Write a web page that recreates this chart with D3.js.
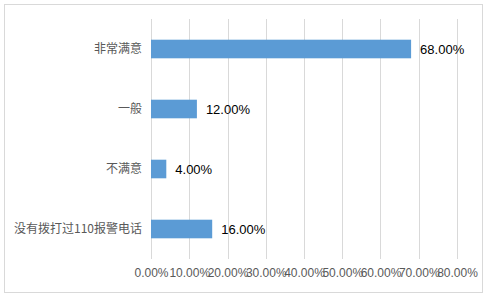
<!DOCTYPE html>
<html>
<head>
<meta charset="utf-8">
<script src="https://cdn.jsdelivr.net/npm/d3@7"></script>
<style>
  body { margin: 0; background: #fff; }
  svg { display: block; }
</style>
</head>
<body>
<svg id="chart"></svg>
<script>
// chart data
const categories = ['非常满意', '一般', '不满意', '没有拨打过110报警电话'];
const values = [0.68, 0.12, 0.04, 0.16];
const tickValues = [0, 0.1, 0.2, 0.3, 0.4, 0.5, 0.6, 0.7, 0.8];

const W = 489, H = 297;
const margin = { top: 19, right: 32, bottom: 38, left: 151 };
const width = W - margin.left - margin.right;
const height = H - margin.top - margin.bottom;

const svg = d3.select('#chart').attr('width', W).attr('height', H);

// outer border
svg.append('rect')
  .attr('x', 4.5).attr('y', 4.5)
  .attr('width', 478).attr('height', 288)
  .attr('fill', '#fff')
  .attr('stroke', '#d9d9d9');

const g = svg.append('g')
  .attr('transform', `translate(${margin.left},${margin.top})`);

const x = d3.scaleLinear().domain([0, 0.8]).range([0, width]);
const y = d3.scaleBand().domain(categories).range([0, height]).paddingInner(0.69).paddingOuter(0.345);

// gridlines
g.selectAll('.grid')
  .data(tickValues)
  .enter()
  .append('line')
  .attr('class', 'grid')
  .attr('x1', d => Math.round(x(d)) + 0.5)
  .attr('x2', d => Math.round(x(d)) + 0.5)
  .attr('y1', 0)
  .attr('y2', height)
  .attr('stroke', '#d9d9d9');

// x axis tick labels
const xAxis = g.append('g')
  .attr('transform', `translate(0,${height})`)
  .call(d3.axisBottom(x).tickValues(tickValues).tickFormat(d3.format('.2%')).tickSize(0).tickPadding(9));
xAxis.select('.domain').remove();
xAxis.selectAll('text')
  .attr('fill', '#595959')
  .style('font-family', '"Liberation Sans", Arial, sans-serif')
  .style('font-size', '12px');

// category labels
const yAxis = g.append('g')
  .call(d3.axisLeft(y).tickSize(0).tickPadding(9));
yAxis.select('.domain').remove();
yAxis.selectAll('text')
  .attr('fill', '#595959')
  .style('font-family', '"Noto Sans CJK SC", sans-serif')
  .style('font-size', '12px');

// bars
g.selectAll('.bar')
  .data(categories)
  .enter()
  .append('rect')
  .attr('class', 'bar')
  .attr('x', x(0))
  .attr('y', d => y(d))
  .attr('width', (d, i) => x(values[i]) - x(0))
  .attr('height', y.bandwidth())
  .attr('fill', '#5b9bd5');

// value labels
g.selectAll('.val')
  .data(categories)
  .enter()
  .append('text')
  .attr('class', 'val')
  .attr('x', (d, i) => x(values[i]) + 9)
  .attr('y', d => y(d) + y.bandwidth() / 2)
  .attr('dy', '0.35em')
  .attr('fill', '#000')
  .style('font-family', '"Liberation Sans", Arial, sans-serif')
  .style('font-size', '13px')
  .text((d, i) => d3.format('.2%')(values[i]));
</script>
</body>
</html>
